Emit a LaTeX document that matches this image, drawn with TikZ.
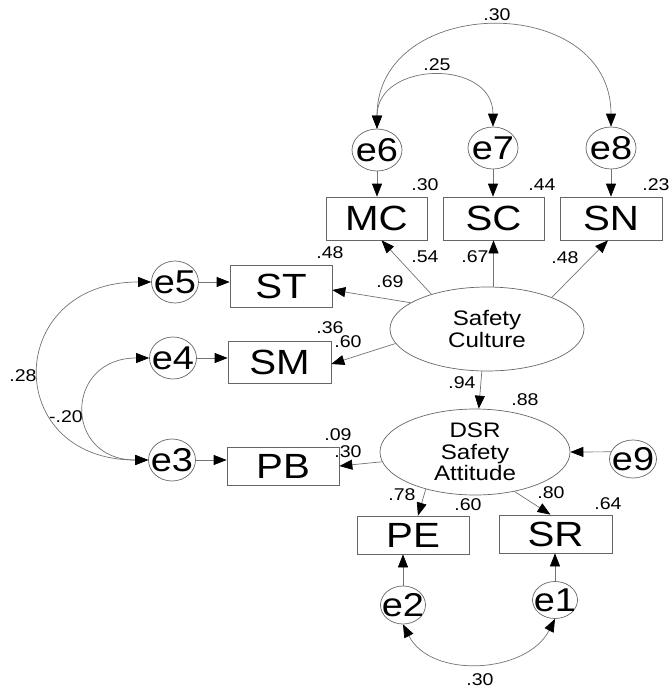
\documentclass[tikz,border=0pt]{standalone}
\usepackage{fontspec}
\setmainfont{Liberation Sans}[FakeStretch=1.15]
\usetikzlibrary{shapes.geometric,arrows.meta}
\begin{document}
\begin{tikzpicture}[x=1pt,y=-1pt,
  line/.style={draw=black!55, line width=0.7pt},
  arr/.style={line, -{Triangle[length=13pt,width=10pt,color=black]}},
  biarr/.style={line, {Triangle[length=13pt,width=10pt,color=black]}-{Triangle[length=13pt,width=10pt,color=black]}},
  obs/.style={rectangle, draw=black!60, line width=0.7pt, inner sep=0pt, font=\fontsize{35}{35}\selectfont, minimum height=42pt},
  err/.style={ellipse, draw=black!60, line width=0.7pt, inner sep=0pt, minimum width=48pt, minimum height=42pt},
  errtxt/.style={font=\fontsize{33}{33}\selectfont, inner sep=0pt},
  lat/.style={ellipse, draw=black!60, line width=0.7pt, inner sep=0pt},
  lattxt/.style={align=center, inner sep=0pt},
  num/.style={font=\fontsize{17}{17}\selectfont, inner sep=0pt}
]
\useasboundingbox (0,0) rectangle (672,691);

% observed boxes
\node[obs, minimum width=101pt, minimum height=43pt] (MC) at (376.5,218.5) {MC};
\node[obs, minimum width=101pt, minimum height=43pt] (SC) at (493.5,218.5) {SC};
\node[obs, minimum width=102pt, minimum height=43pt] (SN) at (611,218.5) {SN};
\node[obs, minimum width=102pt] (ST) at (281,286) {ST};
\node[obs, minimum width=103pt] (SM) at (279.5,362) {SM};
\node[obs, minimum width=112pt, minimum height=38pt] (PB) at (283,466) {PB};
\node[obs, minimum width=112pt, minimum height=38pt] (PE) at (413,535) {PE};
\node[obs, minimum width=113pt, minimum height=38pt] (SR) at (555.5,534) {SR};

% latent ellipses
\node[lat, minimum width=194pt, minimum height=84pt,
  label={[lattxt, font=\fontsize{21}{22}\selectfont, name=SCuT]center:{Safety\\Culture}}] (SCu) at (487,329) {};
\node[lat, minimum width=190pt, minimum height=86pt,
  label={[lattxt, font=\fontsize{21}{21.5}\selectfont, name=DSRT]center:{DSR\\Safety\\Attitude}}] (DSR) at (475,452) {};

% error terms
\node[err, minimum width=50pt, label={[errtxt, name=e6T]center:e6}] (e6) at (377,150) {};
\node[err, minimum width=50pt, label={[errtxt, name=e7T]center:e7}] (e7) at (493,148) {};
\node[err, minimum width=50pt, label={[errtxt, name=e8T]center:e8}] (e8) at (611,148) {};
\node[err, minimum width=47pt, label={[errtxt, name=e5T]center:e5}] (e5) at (175,282) {};
\node[err, minimum width=47pt, label={[errtxt, name=e4T]center:e4}] (e4) at (173,358) {};
\node[err, minimum width=47pt, label={[errtxt, name=e3T]center:e3}] (e3) at (172,460) {};
\node[err, minimum width=47pt, minimum height=38pt, label={[errtxt, name=e9T]center:e9}] (e9) at (633,459) {};
\node[err, minimum width=45pt, minimum height=38pt, label={[errtxt, name=e2T]center:e2}] (e2) at (403,605) {};
\node[err, minimum width=45pt, minimum height=37pt, label={[errtxt, name=e1T]center:e1}] (e1) at (555,600) {};

% structural / measurement paths
\draw[arr] (SCu.148) -- ([xshift=5pt]MC.south);
\draw[arr] (SC.south |- SCu.north) -- (SC.south);
\draw[arr] (SCu.26) -- ([xshift=-3pt]SN.south);
\draw[arr] (SCu.161) -- ([yshift=-4pt]ST.east);
\draw[arr] (SCu.189) -- ([yshift=-2pt]SM.east);
\draw[arr] (SCu.263) -- (DSR.85);
\draw[arr] (DSR.186) -- (PB.east);
\draw[arr] (DSR.217) -- ([xshift=5pt]PE.north);
\draw[arr] (DSR.315) -- ([xshift=-5pt]SR.north);
\draw[arr] (e9.162) -- (DSR.east);

% error paths
\draw[arr] (e6.south) -- (e6.south |- MC.north);
\draw[arr] (e7.south) -- (e7.south |- SC.north);
\draw[arr] (e8.south) -- (e8.south |- SN.north);
\draw[arr] (e5.east) -- (e5.east -| ST.west);
\draw[arr] (e4.east) -- (e4.east -| SM.west);
\draw[arr] (e3.east) -- (e3.east -| PB.west);
\draw[arr] (e2.north) -- (e2.north |- PE.south);
\draw[arr] (e1.north) -- (e1.north |- SR.south);

% covariances
\draw[biarr] (e6.north) .. controls +(0,-135) and +(0,-135) .. (e8.north);
\draw[biarr] (e6.north) .. controls +(0,-68) and +(0,-68) .. (e7.north);
\draw[biarr] (e5.west) .. controls +(-147,0) and +(-147,0) .. (e3.west);
\draw[biarr] (e4.west) .. controls +(-85,0) and +(-85,0) .. (e3.west);
\draw[biarr] (e2.south) .. controls +(28,55) and +(-28,55) .. (e1.south);

% estimates
\node[num] (n1) at (497,15) {.30};
\node[num] (n2) at (437,65) {.25};
\node[num] (n3) at (425,185) {.30};
\node[num] (n4) at (542,185) {.44};
\node[num] (n5) at (656,185) {.23};
\node[num] (n6) at (330,253) {.48};
\node[num] (n7) at (425,257) {.54};
\node[num] (n8) at (475,257) {.67};
\node[num] (n9) at (565,258) {.48};
\node[num] (n10) at (390,282) {.69};
\node[num] (n11) at (330,328) {.36};
\node[num] (n12) at (348,342) {.60};
\node[num] (n13) at (462,383) {.94};
\node[num] (n14) at (525,400) {.88};
\node[num] (n15) at (338,435) {.09};
\node[num] (n16) at (348,452) {.30};
\node[num] (n17) at (402,495) {.78};
\node[num] (n18) at (468,505) {.60};
\node[num] (n19) at (551,493) {.80};
\node[num] (n20) at (608,504) {.64};
\node[num] (n21) at (23,376) {.28};
\node[num] (n22) at (66,417) {-.20};
\node[num] (n23) at (480,680) {.30};
\end{tikzpicture}
\end{document}
